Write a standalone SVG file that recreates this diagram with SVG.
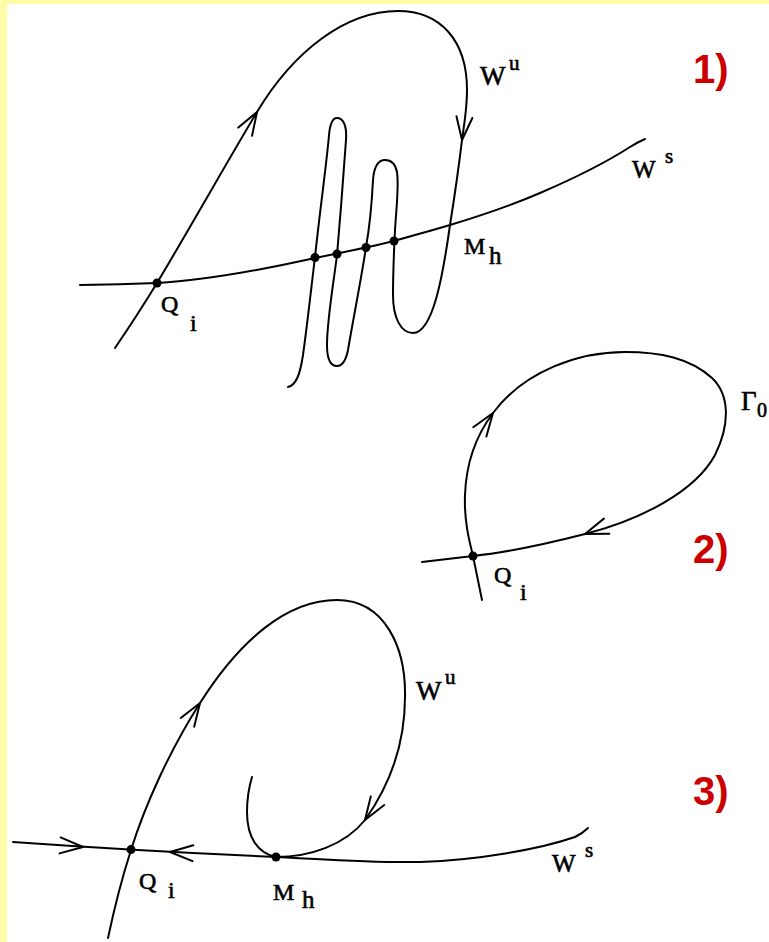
<svg xmlns="http://www.w3.org/2000/svg" xmlns:xlink="http://www.w3.org/1999/xlink" width="769" height="942" viewBox="0 0 769 942">
<style>
.c{fill:none;stroke:#000;stroke-width:2;stroke-linecap:round;stroke-linejoin:round}
.d{fill:#000}
.t{font-family:"Liberation Serif","Times New Roman",serif;fill:#000;stroke:#000;stroke-width:0.6px}
.n{font-family:"Liberation Sans",Arial,sans-serif;font-weight:bold;font-size:40px;fill:#CC0000}
</style>
<defs>
<path id="arr" class="c" d="M-23,-8 L0,0 L-23,8"/>
</defs>
<rect x="0" y="0" width="769" height="942" fill="#FFFCA8"/>
<rect x="7" y="4" width="762" height="938" fill="#FFFFFF"/>

<g id="connectors">
<!-- panel 1 -->
<path class="c" d="M80,285 Q120,284.5 157,283 C210,280 270,268 315,258 C345,252 370,247 394,241 C415,235 430,231 450,225 C480,216 510,206 540,193 C575,178 605,163 630,147 Q638,142 645,139"/>
<path class="c" d="M115,348 C130,326 143,306 157,283 C190,228 227,162 257,112 C293,52 345,11 398,11 C440,11 467,40 467,90 C467,110 464,125 462,140 C459,165 454,200 450,225 C443,275 433,333 413,333 C401,333 393,318 393,295 C393,270 394,250 395,230 C397,200 399,185 397,172 C395,162 390,160 385,160 C378,160 374,167 373,180 C372,200 370,225 366,247 C362,275 353,320 348,350 C346,360 342,366 337,366 C330,366 327,358 327,345 C327,320 334,280 337,255 C340,220 344,170 346,140 C347,125 343,118 337,118 C332,118 330,124 329,135 C327,160 320,210 315,257 C311,290 307,327 303,355 C300,375 296,385 288,387"/>
<use xlink:href="#arr" transform="translate(257,112) rotate(-59)"/>
<use xlink:href="#arr" transform="translate(462,140) rotate(96)"/>
<!-- panel 2 -->
<path class="c" d="M422,562 C440,560 455,558 473,556 C510,552 550,543 585,534 C640,520 695,492 715,455 C730,425 730,395 712,378 C690,358 660,352 625,352 C580,352 525,370 493,413 C475,437 466,465 465,495 C464,520 469,540 473,556 L482,600"/>
<use xlink:href="#arr" transform="translate(493,413) rotate(-55)"/>
<use xlink:href="#arr" transform="translate(585,534) rotate(160)"/>
<!-- panel 3 -->
<path class="c" d="M13,842 Q140,851 276,857 C320,859 370,863 420,862 C480,860 540,849 575,837 Q583,833 588,828"/>
<path class="c" d="M108,938 C115,905 122,878 131,850 C145,805 170,750 200,703 C240,640 287,600 337,600 C385,600 406,648 405,697 C405,740 392,782 365,820 C345,845 310,857 276,857"/>
<path class="c" d="M276,857 C258,853 247,838 247,812 C247,798 249,787 252,777"/>
<use xlink:href="#arr" transform="translate(83,847) rotate(4)"/>
<use xlink:href="#arr" transform="translate(170,852) rotate(183)"/>
<use xlink:href="#arr" transform="translate(200,703) rotate(-57)"/>
<use xlink:href="#arr" transform="translate(365,820) rotate(123)"/>
</g>

<g id="panel1">
<circle class="d" cx="157" cy="283" r="4.5"/>
<circle class="d" cx="315" cy="257.5" r="4.5"/>
<circle class="d" cx="337" cy="254" r="4.5"/>
<circle class="d" cx="366" cy="247.5" r="4.5"/>
<circle class="d" cx="394" cy="241" r="4.5"/>
<text class="t" x="480" y="85" font-size="27">W</text>
<text class="t" x="509" y="70" font-size="21">u</text>
<text class="t" x="632" y="178" font-size="25">W</text>
<text class="t" x="665" y="163" font-size="21">s</text>
<text class="t" x="464" y="254" font-size="24">M</text>
<text class="t" x="489" y="264" font-size="25">h</text>
<text class="t" x="161" y="312" font-size="24">Q</text>
<text class="t" x="190" y="331" font-size="24">i</text>
<text class="n" x="693" y="83">1)</text>
</g>

<g id="panel2">
<circle class="d" cx="473" cy="556" r="4.5"/>
<text class="t" x="741" y="410" font-size="27">Γ</text>
<text class="t" x="757" y="417" font-size="20">0</text>
<text class="t" x="494" y="583" font-size="24">Q</text>
<text class="t" x="520" y="600" font-size="24">i</text>
<text class="n" x="693" y="563">2)</text>
</g>

<g id="panel3">
<circle class="d" cx="131" cy="849.6" r="4.5"/>
<circle class="d" cx="276" cy="857" r="4.5"/>
<text class="t" x="139" y="889" font-size="24">Q</text>
<text class="t" x="168" y="898" font-size="24">i</text>
<text class="t" x="273" y="900" font-size="24">M</text>
<text class="t" x="302" y="908" font-size="25">h</text>
<text class="t" x="416" y="700" font-size="27">W</text>
<text class="t" x="445" y="684" font-size="21">u</text>
<text class="t" x="552" y="872" font-size="25">W</text>
<text class="t" x="585" y="857" font-size="21">s</text>
<text class="n" x="693" y="805">3)</text>
</g>
</svg>
